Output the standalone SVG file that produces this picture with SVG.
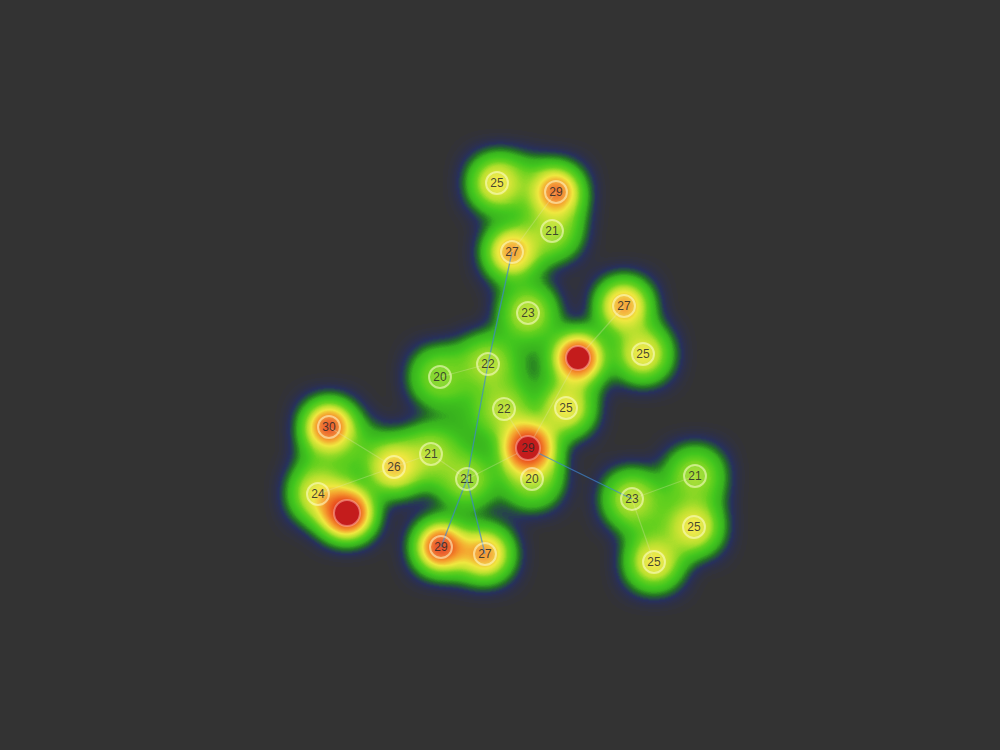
<svg xmlns="http://www.w3.org/2000/svg" width="1000" height="750" viewBox="0 0 1000 750">
<defs>
<filter id="fBase" filterUnits="userSpaceOnUse" x="0" y="0" width="1000" height="750" color-interpolation-filters="sRGB">
<feGaussianBlur stdDeviation="18"/>
<feComponentTransfer><feFuncA type="table" tableValues="0 0.3 0.46 0.5 0.5 0.5 0.5 0.5 0.5 0.5 0.5"/></feComponentTransfer>
</filter>
<filter id="fHot" filterUnits="userSpaceOnUse" x="0" y="0" width="1000" height="750" color-interpolation-filters="sRGB">
<feGaussianBlur stdDeviation="11"/>
</filter>
<filter id="fMap" filterUnits="userSpaceOnUse" x="0" y="0" width="1000" height="750" color-interpolation-filters="sRGB">
<feColorMatrix type="matrix" values="0 0 0 1 0  0 0 0 1 0  0 0 0 1 0  0 0 0 1 0"/>
<feComponentTransfer>
<feFuncR type="table" tableValues="0.16 0.15 0.14 0.22 0.26 0.40 0.72 0.94 0.96 0.92 0.80"/>
<feFuncG type="table" tableValues="0.17 0.19 0.45 0.70 0.78 0.82 0.88 0.91 0.62 0.32 0.12"/>
<feFuncB type="table" tableValues="0.36 0.38 0.14 0.12 0.12 0.12 0.18 0.25 0.18 0.12 0.10"/>
<feFuncA type="table" tableValues="0 0.9 1 1 1 1 1 1 1 1 1"/>
</feComponentTransfer>
</filter>
<style>
.b{fill:#fff}
.h{fill:#fff}
.e{stroke:#e6e6b4;stroke-opacity:0.3;stroke-width:1.2;fill:none}
.eb{stroke:#3f86d0;stroke-opacity:0.7;stroke-width:1.3;fill:none}
.ring{fill:#ffffc8;fill-opacity:0.1;stroke:#ffffd2;stroke-opacity:0.55;stroke-width:2}
.red{fill:#c41c1c;stroke:#ffb0a0;stroke-opacity:0.55;stroke-width:2}
.t{font-family:"Liberation Sans",Arial,sans-serif;font-size:12px;fill:#2a2a2a;fill-opacity:0.85;text-anchor:middle}
</style>
</defs>
<rect width="1000" height="750" fill="#333333"/>
<g id="heatmap" filter="url(#fMap)">
<g filter="url(#fBase)">
<circle class="b" cx="497" cy="183" r="14"/><circle class="b" cx="556" cy="192" r="14"/><circle class="b" cx="552" cy="231" r="14"/><circle class="b" cx="512" cy="252" r="14"/><circle class="b" cx="528" cy="313" r="14"/><circle class="b" cx="624" cy="306" r="14"/><circle class="b" cx="578" cy="358" r="14"/><circle class="b" cx="643" cy="354" r="14"/><circle class="b" cx="488" cy="364" r="14"/><circle class="b" cx="440" cy="377" r="14"/><circle class="b" cx="504" cy="409" r="14"/><circle class="b" cx="566" cy="408" r="14"/><circle class="b" cx="528" cy="448" r="14"/><circle class="b" cx="532" cy="479" r="14"/><circle class="b" cx="329" cy="427" r="14"/><circle class="b" cx="394" cy="467" r="14"/><circle class="b" cx="431" cy="454" r="14"/><circle class="b" cx="467" cy="479" r="14"/><circle class="b" cx="318" cy="494" r="14"/><circle class="b" cx="347" cy="513" r="14"/><circle class="b" cx="441" cy="547" r="14"/><circle class="b" cx="485" cy="554" r="14"/><circle class="b" cx="632" cy="499" r="14"/><circle class="b" cx="695" cy="476" r="14"/><circle class="b" cx="694" cy="527" r="14"/><circle class="b" cx="654" cy="562" r="14"/>
<circle class="b" cx="530" cy="360" r="16" fill-opacity="0.12"/><circle class="b" cx="526" cy="185" r="14" fill-opacity="0.35"/><circle class="b" cx="660" cy="520" r="14" fill-opacity="0.5"/><circle class="b" cx="470" cy="420" r="14" fill-opacity="0.3"/><circle class="b" cx="330" cy="462" r="14" fill-opacity="0.45"/><circle class="b" cx="362" cy="447" r="14" fill-opacity="0.35"/>
</g>
<g filter="url(#fHot)">
<circle class="h" cx="497" cy="183" r="20" fill-opacity="0.5"/>
<circle class="h" cx="556" cy="192" r="20" fill-opacity="0.88"/>
<circle class="h" cx="552" cy="231" r="20" fill-opacity="0.2"/>
<circle class="h" cx="512" cy="252" r="20" fill-opacity="0.74"/>
<circle class="h" cx="528" cy="313" r="20" fill-opacity="0.28"/>
<circle class="h" cx="624" cy="306" r="20" fill-opacity="0.74"/>
<circle class="h" cx="578" cy="358" r="22" fill-opacity="1"/>
<circle class="h" cx="643" cy="354" r="20" fill-opacity="0.5"/>
<circle class="h" cx="488" cy="364" r="20" fill-opacity="0.25"/>
<circle class="h" cx="440" cy="377" r="20" fill-opacity="0.12"/>
<circle class="h" cx="504" cy="409" r="20" fill-opacity="0.25"/>
<circle class="h" cx="566" cy="408" r="20" fill-opacity="0.5"/>
<circle class="h" cx="528" cy="448" r="24" fill-opacity="1"/>
<circle class="h" cx="532" cy="479" r="20" fill-opacity="0.15"/>
<circle class="h" cx="329" cy="427" r="20" fill-opacity="0.98"/>
<circle class="h" cx="394" cy="467" r="20" fill-opacity="0.62"/>
<circle class="h" cx="431" cy="454" r="20" fill-opacity="0.22"/>
<circle class="h" cx="467" cy="479" r="20" fill-opacity="0.2"/>
<circle class="h" cx="318" cy="494" r="20" fill-opacity="0.45"/>
<circle class="h" cx="347" cy="513" r="24" fill-opacity="1"/>
<circle class="h" cx="441" cy="547" r="21" fill-opacity="1"/>
<circle class="h" cx="485" cy="554" r="20" fill-opacity="0.76"/>
<circle class="h" cx="632" cy="499" r="20" fill-opacity="0.28"/>
<circle class="h" cx="695" cy="476" r="20" fill-opacity="0.2"/>
<circle class="h" cx="694" cy="527" r="20" fill-opacity="0.5"/>
<circle class="h" cx="654" cy="562" r="20" fill-opacity="0.5"/>
</g>
</g>
<g id="edges">
<line class="e" x1="512" y1="252" x2="556" y2="192"/>
<line class="eb" x1="512" y1="252" x2="488" y2="364"/>
<line class="eb" x1="488" y1="364" x2="467" y2="479"/>
<line class="eb" x1="467" y1="479" x2="441" y2="547" stroke-opacity="0.45"/>
<line class="eb" x1="467" y1="479" x2="485" y2="554" stroke-opacity="0.45"/>
<line class="e" x1="394" y1="467" x2="431" y2="454"/>
<line class="e" x1="431" y1="454" x2="467" y2="479"/>
<line class="e" x1="467" y1="479" x2="528" y2="448"/>
<line class="eb" x1="528" y1="448" x2="632" y2="499"/>
<line class="e" x1="578" y1="358" x2="624" y2="306"/>
<line class="e" x1="578" y1="358" x2="528" y2="448"/>
<line class="e" x1="504" y1="409" x2="528" y2="448" stroke-opacity="0.18"/>
<line class="e" x1="394" y1="467" x2="318" y2="494" stroke-opacity="0.18"/>
<line class="e" x1="329" y1="427" x2="394" y2="467" stroke-opacity="0.18"/>
<line class="e" x1="632" y1="499" x2="695" y2="476" stroke-opacity="0.18"/>
<line class="e" x1="632" y1="499" x2="654" y2="562" stroke-opacity="0.18"/>
<line class="e" x1="440" y1="377" x2="488" y2="364" stroke-opacity="0.18"/>
</g>
<g id="nodes">
<g id="n1"><circle class="ring" cx="497" cy="183" r="11"/><text class="t" x="497" y="187">25</text></g>
<g id="n2"><circle class="ring" cx="556" cy="192" r="11"/><text class="t" x="556" y="196">29</text></g>
<g id="n3"><circle class="ring" cx="552" cy="231" r="11"/><text class="t" x="552" y="235">21</text></g>
<g id="n4"><circle class="ring" cx="512" cy="252" r="11"/><text class="t" x="512" y="256">27</text></g>
<g id="n5"><circle class="ring" cx="528" cy="313" r="11"/><text class="t" x="528" y="317">23</text></g>
<g id="n6"><circle class="ring" cx="624" cy="306" r="11"/><text class="t" x="624" y="310">27</text></g>
<g id="n7"><circle class="red" cx="578" cy="358" r="12"/></g>
<g id="n8"><circle class="ring" cx="643" cy="354" r="11"/><text class="t" x="643" y="358">25</text></g>
<g id="n9"><circle class="ring" cx="488" cy="364" r="11"/><text class="t" x="488" y="368">22</text></g>
<g id="n10"><circle class="ring" cx="440" cy="377" r="11"/><text class="t" x="440" y="381">20</text></g>
<g id="n11"><circle class="ring" cx="504" cy="409" r="11"/><text class="t" x="504" y="413">22</text></g>
<g id="n12"><circle class="ring" cx="566" cy="408" r="11"/><text class="t" x="566" y="412">25</text></g>
<g id="n13"><circle class="red" cx="528" cy="448" r="12"/><text class="t" x="528" y="452" fill-opacity="0.5">29</text></g>
<g id="n14"><circle class="ring" cx="532" cy="479" r="11"/><text class="t" x="532" y="483">20</text></g>
<g id="n15"><circle class="ring" cx="329" cy="427" r="11"/><text class="t" x="329" y="431">30</text></g>
<g id="n16"><circle class="ring" cx="394" cy="467" r="11"/><text class="t" x="394" y="471">26</text></g>
<g id="n17"><circle class="ring" cx="431" cy="454" r="11"/><text class="t" x="431" y="458">21</text></g>
<g id="n18"><circle class="ring" cx="467" cy="479" r="11"/><text class="t" x="467" y="483">21</text></g>
<g id="n19"><circle class="ring" cx="318" cy="494" r="11"/><text class="t" x="318" y="498">24</text></g>
<g id="n20"><circle class="red" cx="347" cy="513" r="13"/></g>
<g id="n21"><circle class="ring" cx="441" cy="547" r="11"/><text class="t" x="441" y="551">29</text></g>
<g id="n22"><circle class="ring" cx="485" cy="554" r="11"/><text class="t" x="485" y="558">27</text></g>
<g id="n23"><circle class="ring" cx="632" cy="499" r="11"/><text class="t" x="632" y="503">23</text></g>
<g id="n24"><circle class="ring" cx="695" cy="476" r="11"/><text class="t" x="695" y="480">21</text></g>
<g id="n25"><circle class="ring" cx="694" cy="527" r="11"/><text class="t" x="694" y="531">25</text></g>
<g id="n26"><circle class="ring" cx="654" cy="562" r="11"/><text class="t" x="654" y="566">25</text></g>
</g>
</svg>
